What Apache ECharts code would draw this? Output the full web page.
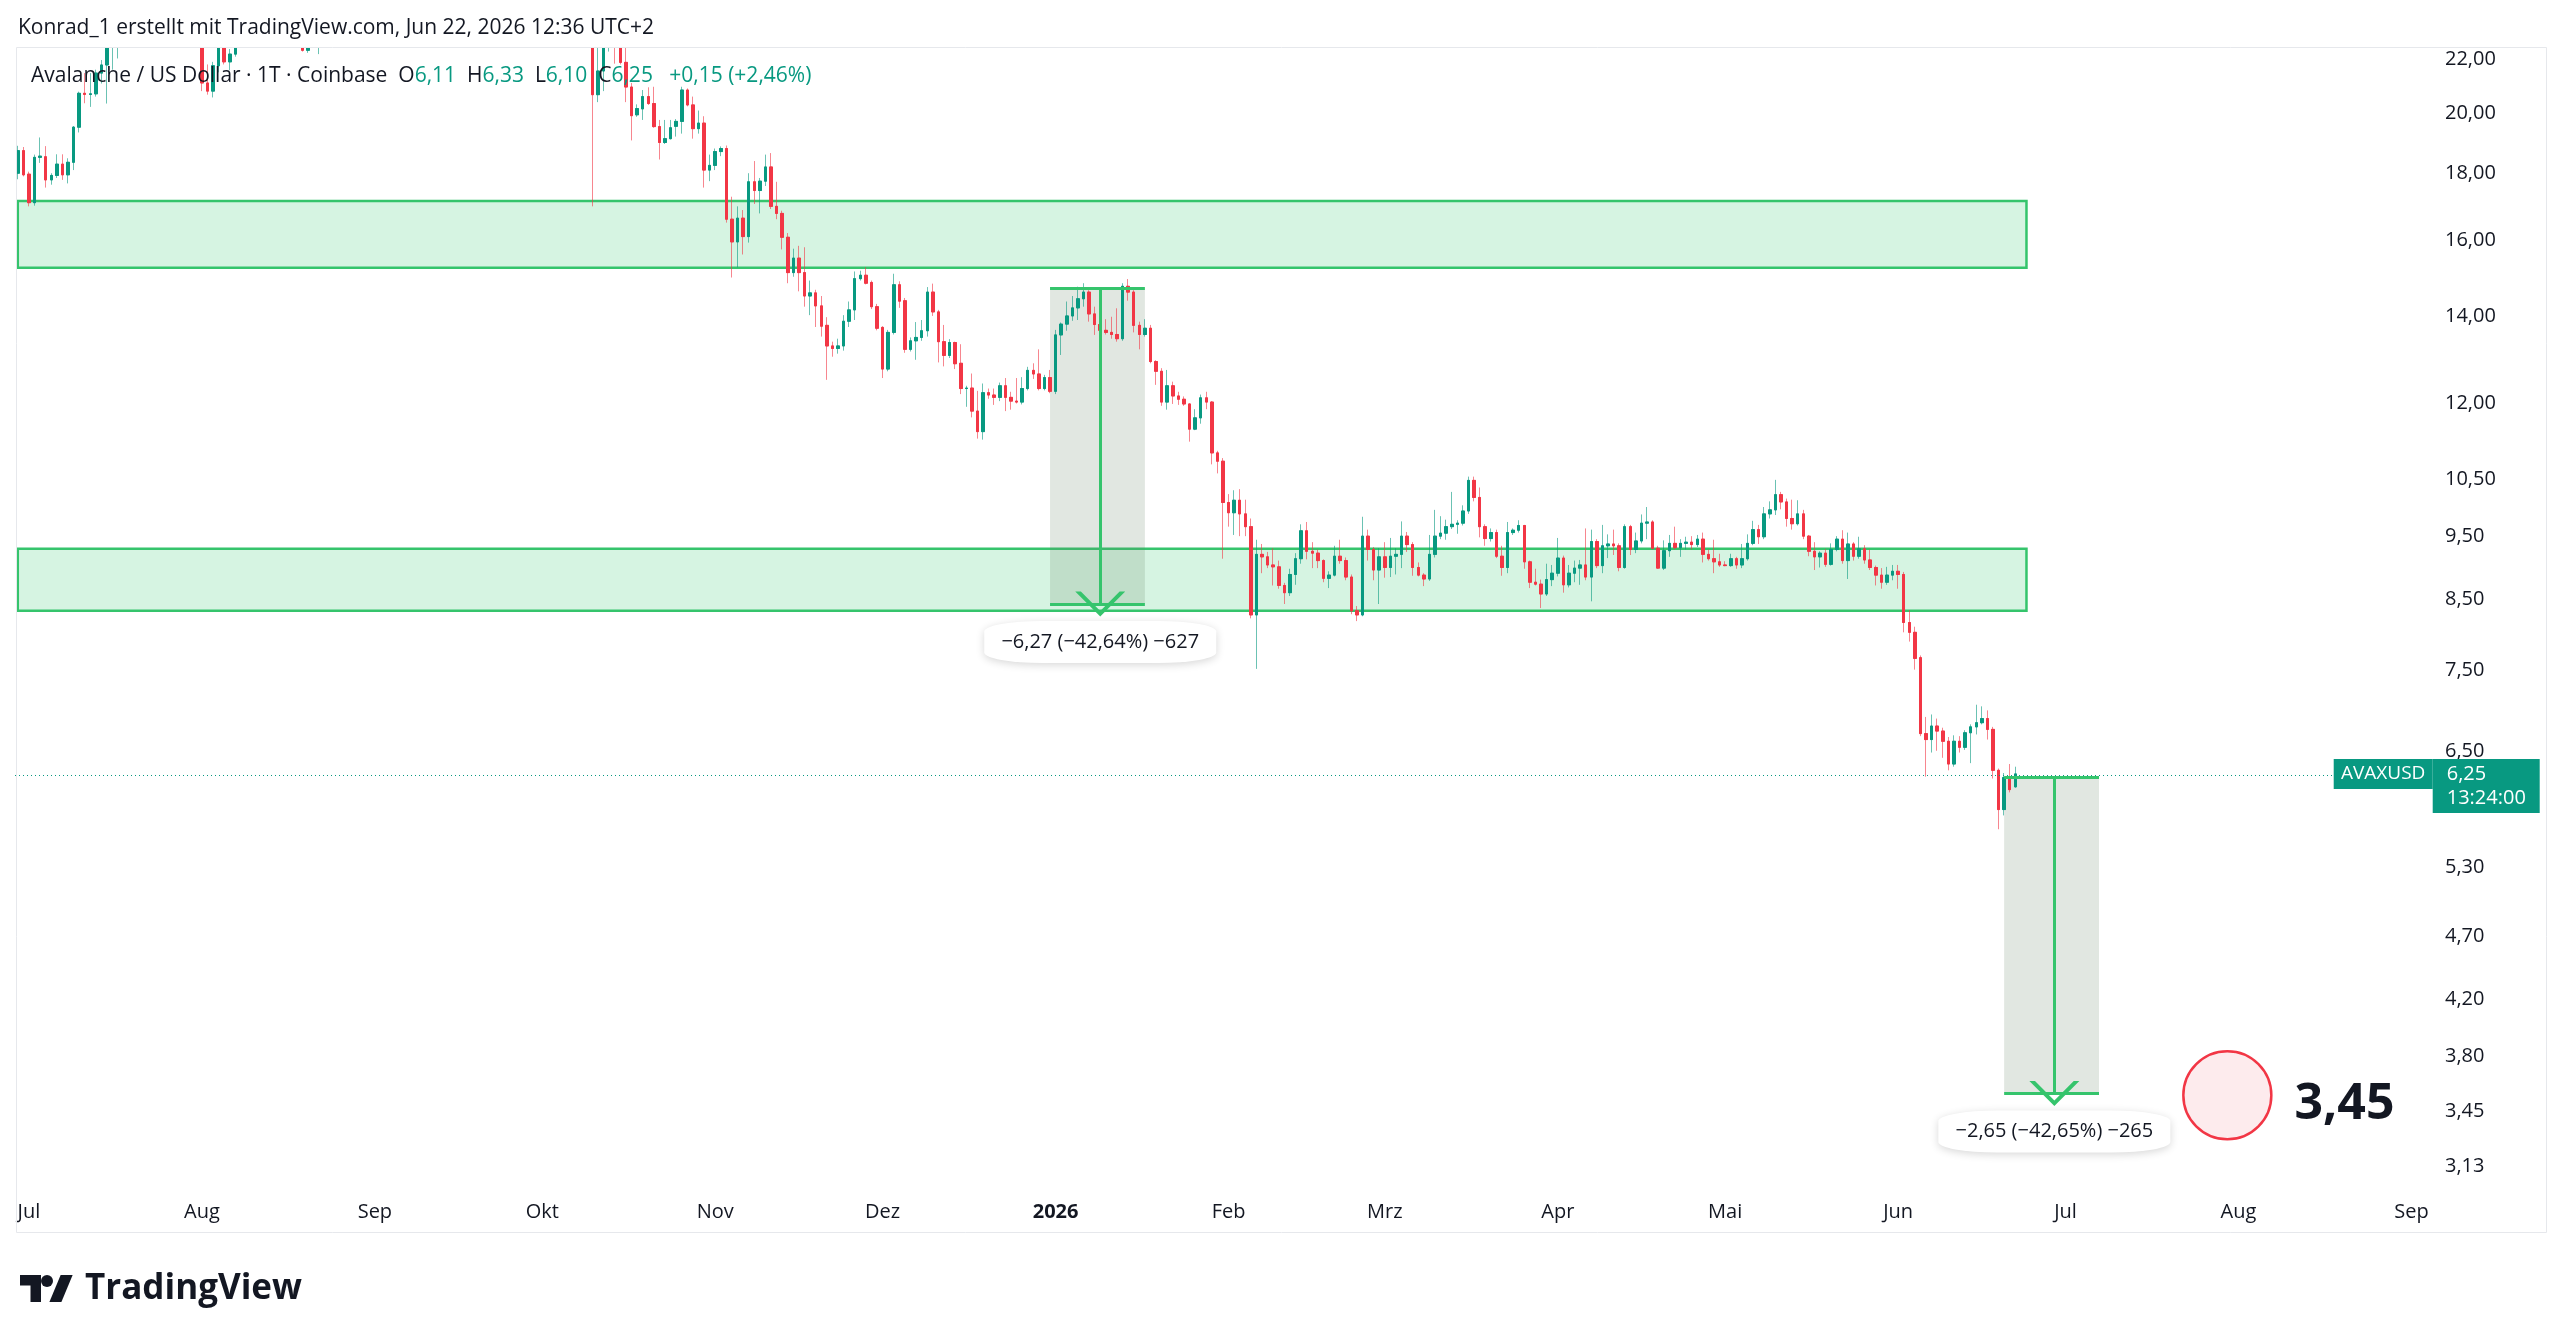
<!DOCTYPE html>
<html>
<head>
<meta charset="utf-8">
<script src="https://cdn.jsdelivr.net/npm/echarts@6/dist/echarts.min.js"></script>
<style>
  html, body { margin: 0; padding: 0; background: #fff; }
  #chart { width: 2560px; height: 1340px; }
</style>
</head>
<body>
<div id="chart"></div>
<script>
// daily AVAXUSD candles, [open, close, low, high]
const jun25 = [
  [18.00, 18.73, 17.81, 18.89], [18.73, 17.95, 17.90, 18.85]
];
const jul25 = [
  [17.97, 17.09, 16.98, 18.05], [17.09, 18.51, 17.00, 18.60], [18.51, 18.55, 18.33, 19.17], [18.53, 17.79, 17.55, 18.88],
  [17.79, 17.93, 17.64, 18.00], [17.93, 18.29, 17.85, 18.61], [18.29, 17.95, 17.79, 18.61], [17.95, 18.35, 17.68, 18.48],
  [18.35, 19.52, 18.10, 19.56], [19.52, 20.72, 19.34, 20.78], [20.72, 20.68, 20.36, 21.47], [20.68, 20.70, 20.23, 21.47],
  [20.70, 21.47, 20.60, 21.60], [21.47, 21.78, 21.08, 21.97], [21.78, 22.80, 20.35, 23.20], [22.80, 23.50, 21.60, 23.90],
  [23.50, 24.10, 22.03, 24.50], [24.10, 24.70, 23.60, 25.30], [24.70, 24.90, 24.20, 25.40], [24.90, 25.90, 24.60, 26.30],
  [25.90, 26.00, 25.10, 26.80], [26.00, 26.20, 25.30, 26.90], [26.20, 24.60, 24.10, 26.50], [24.60, 24.80, 23.80, 25.30],
  [24.80, 24.60, 23.60, 25.00], [24.60, 25.00, 24.30, 25.30], [25.00, 25.80, 24.80, 26.10], [25.80, 24.50, 24.30, 26.40],
  [24.50, 24.30, 23.70, 25.10], [24.30, 23.80, 23.10, 24.60], [23.80, 22.90, 22.60, 24.00]
];
const aug25 = [
  [22.90, 21.10, 20.80, 23.00], [21.10, 20.80, 20.67, 21.80], [20.80, 21.75, 20.57, 21.90], [21.75, 22.80, 21.50, 23.10],
  [22.80, 21.90, 21.80, 23.00], [21.90, 22.20, 21.58, 22.40], [22.20, 22.90, 22.10, 23.20], [22.90, 23.50, 22.70, 23.80],
  [23.50, 23.80, 23.20, 24.20], [23.80, 24.00, 23.40, 24.60], [24.00, 23.60, 23.10, 24.90], [23.60, 24.80, 23.30, 25.00],
  [24.80, 25.70, 24.50, 26.20], [25.70, 24.30, 23.80, 26.00], [24.30, 23.80, 23.30, 24.70], [23.80, 23.90, 23.50, 24.20],
  [23.90, 24.10, 23.60, 24.60], [24.10, 23.60, 22.90, 24.30], [23.60, 22.35, 22.30, 23.80], [22.35, 22.60, 22.25, 23.40],
  [22.60, 23.30, 22.50, 23.70], [23.30, 25.50, 22.20, 25.80], [25.50, 25.00, 24.60, 25.90], [25.00, 24.40, 24.00, 25.40],
  [24.40, 23.30, 23.00, 24.70], [23.30, 24.00, 23.00, 24.20], [24.00, 24.00, 23.50, 24.50], [24.00, 24.30, 23.70, 24.80],
  [24.30, 23.20, 22.90, 24.40], [23.20, 23.60, 23.00, 23.80], [23.60, 23.50, 23.10, 24.00]
];
const sep25 = [
  [23.50, 23.20, 22.80, 23.70], [23.20, 24.20, 23.00, 24.40], [24.20, 24.90, 24.00, 25.10], [24.90, 24.60, 24.20, 25.20],
  [24.60, 24.90, 24.40, 25.50], [24.90, 24.80, 24.50, 25.10], [24.80, 25.10, 24.60, 25.40], [25.10, 25.40, 24.90, 25.80],
  [25.40, 25.80, 25.00, 26.20], [25.80, 26.80, 25.50, 27.10], [26.80, 28.20, 26.50, 28.60], [28.20, 29.10, 27.90, 29.60],
  [29.10, 29.80, 28.80, 30.30], [29.80, 29.50, 29.00, 30.10], [29.50, 30.00, 28.90, 30.60], [30.00, 30.30, 29.50, 30.80],
  [30.30, 31.50, 29.90, 32.00], [31.50, 33.50, 31.20, 34.00], [33.50, 33.80, 32.80, 34.50], [33.80, 34.20, 33.30, 35.00],
  [34.20, 33.00, 32.60, 34.60], [33.00, 31.00, 30.50, 33.30], [31.00, 32.00, 30.60, 32.60], [32.00, 31.00, 30.50, 32.40],
  [31.00, 28.50, 28.00, 31.30], [28.50, 29.50, 28.20, 29.90], [29.50, 29.30, 28.90, 29.80], [29.30, 30.00, 29.00, 30.30],
  [30.00, 30.00, 29.40, 30.50], [30.00, 29.00, 28.70, 30.40]
];
const oct25 = [
  [29.00, 30.20, 28.80, 30.60], [30.20, 31.00, 30.00, 31.50], [31.00, 31.00, 30.40, 31.80], [31.00, 30.00, 29.60, 31.20],
  [30.00, 30.50, 29.70, 31.00], [30.50, 31.00, 30.20, 31.60], [31.00, 29.00, 28.70, 31.40], [29.00, 29.30, 28.40, 29.80],
  [29.30, 28.00, 27.40, 29.50], [28.00, 20.67, 16.98, 28.60], [20.67, 21.55, 20.40, 22.90], [21.55, 22.90, 20.80, 23.40],
  [22.90, 23.50, 22.30, 24.20], [23.50, 22.70, 21.83, 24.00], [22.70, 21.88, 21.80, 23.10], [21.88, 20.95, 20.40, 22.60],
  [20.95, 19.92, 19.07, 21.10], [19.95, 20.17, 19.88, 20.32], [20.16, 20.60, 19.77, 20.84], [20.60, 20.35, 20.30, 20.94],
  [20.35, 19.54, 19.50, 20.96], [19.54, 19.00, 18.44, 19.77], [19.00, 19.13, 18.95, 19.77], [19.13, 19.50, 19.10, 19.77],
  [19.55, 19.72, 19.20, 19.80], [19.72, 20.84, 19.30, 20.96], [20.84, 20.30, 20.25, 20.90], [20.30, 19.47, 19.13, 20.60],
  [19.47, 19.66, 19.30, 20.10], [19.66, 18.10, 17.55, 19.90], [18.10, 18.25, 17.75, 18.60]
];
const nov25 = [
  [18.25, 18.70, 18.10, 18.80], [18.70, 18.80, 18.55, 18.87], [18.80, 16.60, 16.50, 18.90], [16.60, 15.95, 14.98, 17.27],
  [15.95, 16.63, 15.25, 16.98], [16.63, 16.10, 15.60, 16.87], [16.10, 17.73, 15.93, 18.00], [17.73, 17.46, 17.05, 18.39],
  [17.46, 17.75, 16.77, 17.85], [17.75, 18.20, 17.60, 18.60], [18.20, 16.98, 16.90, 18.65], [16.98, 16.77, 16.60, 17.73],
  [16.77, 16.08, 15.74, 16.85], [16.08, 15.11, 14.83, 16.20], [15.11, 15.50, 15.00, 15.76], [15.50, 15.11, 14.62, 15.84],
  [15.11, 14.50, 14.23, 15.80], [14.50, 14.58, 14.02, 14.90], [14.58, 14.25, 13.73, 14.66], [14.25, 13.75, 13.50, 14.50],
  [13.77, 13.28, 12.51, 13.97], [13.28, 13.22, 13.03, 13.38], [13.22, 13.28, 13.10, 13.45], [13.28, 13.87, 13.17, 14.02],
  [13.87, 14.15, 13.73, 14.36], [14.15, 14.95, 13.90, 15.14], [14.95, 15.04, 14.90, 15.16], [15.04, 14.83, 14.80, 15.25],
  [14.85, 14.23, 14.17, 14.90], [14.23, 13.70, 13.65, 14.30]
];
const dec25 = [
  [13.72, 12.75, 12.55, 13.75], [12.75, 13.60, 12.70, 13.66], [13.60, 14.79, 13.55, 15.08], [14.79, 14.37, 14.20, 14.88],
  [14.38, 13.20, 13.12, 14.45], [13.20, 13.40, 13.15, 13.48], [13.40, 13.48, 12.96, 13.85], [13.48, 13.64, 13.40, 13.90],
  [13.64, 14.60, 13.50, 14.73], [14.60, 14.10, 14.00, 14.82], [14.10, 13.38, 12.90, 14.15], [13.38, 13.06, 12.81, 13.78],
  [13.06, 13.36, 13.00, 13.44], [13.36, 12.87, 12.75, 13.38], [12.88, 12.32, 12.20, 13.32], [12.32, 12.33, 11.93, 12.38],
  [12.33, 11.84, 11.71, 12.65], [11.84, 11.42, 11.28, 12.27], [11.42, 12.23, 11.26, 12.43], [12.23, 12.18, 12.10, 12.32],
  [12.18, 12.13, 11.97, 12.32], [12.13, 12.38, 12.05, 12.45], [12.38, 12.13, 11.84, 12.55], [12.13, 12.05, 11.87, 12.25],
  [12.05, 12.03, 12.00, 12.55], [12.03, 12.32, 11.98, 12.57], [12.32, 12.72, 12.28, 12.80], [12.72, 12.64, 12.53, 12.88],
  [12.64, 12.32, 12.28, 13.20], [12.32, 12.56, 12.28, 12.62], [12.56, 12.26, 12.22, 12.73]
];
const jan26 = [
  [12.26, 13.54, 12.20, 13.66], [13.54, 13.80, 13.07, 13.84], [13.80, 14.00, 13.64, 14.36], [14.00, 14.20, 13.88, 14.50],
  [14.20, 14.43, 13.90, 14.74], [14.43, 14.60, 14.23, 14.83], [14.60, 14.05, 13.86, 14.65], [14.05, 13.79, 13.54, 14.23],
  [13.79, 13.65, 13.57, 14.19], [13.65, 13.60, 13.55, 13.92], [13.60, 13.55, 13.45, 13.98], [13.55, 13.45, 13.38, 14.19],
  [13.45, 14.75, 13.40, 14.83], [14.75, 14.60, 14.38, 14.94], [14.60, 13.77, 13.60, 14.65], [13.77, 13.55, 13.20, 13.86],
  [13.55, 13.70, 13.50, 13.92], [13.70, 12.92, 12.88, 13.78], [12.92, 12.70, 12.40, 12.95], [12.70, 12.03, 11.95, 12.77],
  [12.03, 12.38, 11.87, 12.73], [12.38, 12.16, 11.99, 12.47], [12.16, 12.09, 11.97, 12.25], [12.09, 11.99, 11.95, 12.15],
  [11.99, 11.47, 11.22, 12.00], [11.47, 11.70, 11.45, 11.88], [11.70, 12.12, 11.58, 12.19], [12.12, 12.03, 11.88, 12.25],
  [12.03, 11.00, 10.78, 12.05], [11.00, 10.84, 10.61, 11.04], [10.84, 10.08, 9.13, 10.90]
];
const feb26 = [
  [10.08, 9.90, 9.66, 10.23], [9.90, 10.12, 9.52, 10.30], [10.12, 9.88, 9.50, 10.32], [9.88, 9.66, 9.50, 10.13],
  [9.66, 8.27, 8.22, 9.80], [8.27, 9.20, 7.52, 9.44], [9.20, 9.16, 8.90, 9.37], [9.16, 9.03, 8.98, 9.24],
  [9.03, 9.00, 8.71, 9.30], [9.00, 8.71, 8.66, 9.10], [8.71, 8.60, 8.43, 8.75], [8.60, 8.88, 8.55, 8.97],
  [8.88, 9.13, 8.72, 9.22], [9.13, 9.59, 9.05, 9.70], [9.59, 9.25, 9.12, 9.74], [9.25, 9.22, 8.98, 9.40],
  [9.22, 9.10, 8.98, 9.28], [9.10, 8.82, 8.76, 9.12], [8.82, 8.87, 8.67, 8.93], [8.87, 9.17, 8.85, 9.34],
  [9.17, 9.10, 9.05, 9.44], [9.10, 8.84, 8.79, 9.15], [8.84, 8.33, 8.28, 8.88], [8.33, 8.27, 8.18, 8.40],
  [8.27, 9.50, 8.25, 9.83], [9.50, 9.28, 9.10, 9.61], [9.28, 8.95, 8.79, 9.32], [8.95, 9.16, 8.43, 9.30]
];
const mar26 = [
  [9.16, 8.99, 8.83, 9.40], [8.99, 9.17, 8.84, 9.47], [9.17, 9.20, 8.88, 9.30], [9.20, 9.50, 8.98, 9.75],
  [9.50, 9.36, 9.24, 9.57], [9.36, 8.99, 8.86, 9.40], [8.99, 8.87, 8.85, 9.07], [8.87, 8.81, 8.70, 8.90],
  [8.81, 9.20, 8.78, 9.52], [9.20, 9.50, 9.15, 9.95], [9.50, 9.55, 9.45, 9.84], [9.55, 9.66, 9.44, 9.78],
  [9.66, 9.70, 9.62, 10.27], [9.70, 9.72, 9.54, 9.77], [9.72, 9.93, 9.68, 10.03], [9.93, 10.48, 9.88, 10.55],
  [10.48, 10.17, 10.10, 10.55], [10.17, 9.66, 9.48, 10.35], [9.66, 9.46, 9.34, 9.70], [9.46, 9.56, 9.41, 9.63],
  [9.56, 9.17, 9.14, 9.61], [9.17, 8.99, 8.86, 9.34], [8.99, 9.56, 8.90, 9.74], [9.56, 9.60, 9.52, 9.63],
  [9.60, 9.68, 9.56, 9.77], [9.68, 9.08, 8.97, 9.69], [9.08, 8.76, 8.67, 9.10], [8.76, 8.73, 8.71, 8.97],
  [8.73, 8.58, 8.37, 8.80], [8.58, 8.80, 8.55, 9.05], [8.80, 8.90, 8.70, 9.03]
];
const apr26 = [
  [8.90, 9.14, 8.85, 9.47], [9.14, 8.72, 8.60, 9.18], [8.72, 8.90, 8.68, 9.03], [8.90, 8.98, 8.76, 9.10],
  [8.98, 9.03, 8.72, 9.11], [9.03, 8.84, 8.79, 9.63], [8.84, 9.41, 8.47, 9.61], [9.41, 9.02, 8.98, 9.45],
  [9.02, 9.34, 8.90, 9.69], [9.34, 9.37, 9.14, 9.53], [9.37, 9.34, 9.19, 9.61], [9.34, 8.99, 8.93, 9.38],
  [8.99, 9.66, 8.97, 9.70], [9.66, 9.28, 9.19, 9.69], [9.28, 9.42, 9.22, 9.56], [9.42, 9.72, 9.38, 9.87],
  [9.72, 9.74, 9.45, 10.00], [9.74, 9.30, 9.28, 9.77], [9.30, 8.98, 8.97, 9.34], [8.98, 9.26, 8.95, 9.43],
  [9.26, 9.38, 9.16, 9.52], [9.38, 9.31, 9.28, 9.66], [9.31, 9.38, 9.16, 9.45], [9.38, 9.40, 9.28, 9.49],
  [9.40, 9.36, 9.28, 9.50], [9.36, 9.45, 9.32, 9.52], [9.45, 9.20, 9.07, 9.56], [9.20, 9.13, 9.10, 9.28],
  [9.13, 9.08, 8.90, 9.44], [9.08, 9.03, 9.00, 9.21]
];
const may26 = [
  [9.03, 9.02, 9.01, 9.09], [9.02, 9.13, 9.00, 9.21], [9.13, 9.03, 8.97, 9.16], [9.03, 9.13, 8.98, 9.37],
  [9.13, 9.38, 9.10, 9.53], [9.38, 9.61, 9.35, 9.76], [9.61, 9.49, 9.37, 9.69], [9.49, 9.88, 9.45, 10.00],
  [9.88, 9.95, 9.80, 10.10], [9.95, 10.22, 9.86, 10.49], [10.22, 10.09, 9.96, 10.27], [10.09, 9.80, 9.66, 10.15],
  [9.80, 9.71, 9.61, 10.13], [9.71, 9.88, 9.68, 10.12], [9.88, 9.50, 9.45, 9.95], [9.50, 9.25, 9.17, 9.52],
  [9.25, 9.16, 8.95, 9.40], [9.16, 9.22, 8.99, 9.25], [9.22, 9.04, 9.00, 9.29], [9.04, 9.28, 9.02, 9.38],
  [9.28, 9.45, 9.25, 9.50], [9.45, 9.10, 9.05, 9.60], [9.10, 9.37, 8.81, 9.56], [9.37, 9.17, 9.10, 9.40],
  [9.17, 9.29, 9.13, 9.49], [9.29, 9.11, 9.05, 9.35], [9.11, 8.99, 8.95, 9.28], [8.99, 8.87, 8.71, 9.02],
  [8.87, 8.76, 8.66, 8.98], [8.76, 8.87, 8.72, 9.00], [8.87, 8.93, 8.79, 9.03]
];
const jun26 = [
  [8.93, 8.88, 8.66, 9.03], [8.88, 8.16, 8.02, 8.92], [8.16, 8.02, 7.89, 8.34], [8.02, 7.66, 7.51, 8.10],
  [7.67, 6.71, 6.68, 7.70], [6.71, 6.64, 6.22, 6.91], [6.64, 6.80, 6.49, 6.94], [6.80, 6.74, 6.51, 6.89],
  [6.74, 6.62, 6.43, 6.78], [6.62, 6.36, 6.29, 6.67], [6.36, 6.62, 6.33, 6.69], [6.62, 6.55, 6.49, 6.68],
  [6.55, 6.72, 6.52, 6.75], [6.72, 6.79, 6.37, 6.82], [6.79, 6.84, 6.70, 7.06], [6.84, 6.89, 6.82, 7.04],
  [6.89, 6.76, 6.64, 6.99], [6.76, 6.29, 6.20, 6.79], [6.29, 5.87, 5.67, 6.31], [5.87, 6.21, 5.81, 6.26],
  [6.21, 6.08, 6.05, 6.36], [6.11, 6.25, 6.10, 6.33]
];

const firstDay = '2025-06-29';
const dayCount = 433; // runs on into September 2026 (empty space on the right)
const monthNames = ['Jan', 'Feb', 'Mrz', 'Apr', 'Mai', 'Jun', 'Jul', 'Aug', 'Sep', 'Okt', 'Nov', 'Dez'];
const priceTicks = [22, 20, 18, 16, 14, 12, 10.5, 9.5, 8.5, 7.5, 6.5, 5.3, 4.7, 4.2, 3.8, 3.45, 3.13];
const priceMin = 3.004;
const priceMax = 22.48;

// drawings
const zones = [[15.24, 17.14], [8.33, 9.29]];
const zoneEnd = '2026-06-24';
const measures = [
  { from: '2025-12-31', to: '2026-01-17', mid: '2026-01-09', top: 14.70, bottom: 8.43, text: '\u22126,27 (\u221242,64%) \u2212627' },
  { from: '2026-06-20', to: '2026-07-07', mid: '2026-06-29', top: 6.21, bottom: 3.56, text: '\u22122,65 (\u221242,65%) \u2212265' }
];
const lastPrice = 6.25;
const countdown = '13:24:00';
const targetCircle = ['2026-07-30', 3.55];
const targetText = ['2026-08-20', 3.49, '3,45'];

const FONT = '"Open Sans", Roboto, sans-serif';
const INK = '#131722';
const UP = '#089981';
const DOWN = '#F23645';
const LINE_GREEN = '#35c46c';

const fmt = v => v.toFixed(2).replace('.', ',');

const days = [];
const t0 = Date.parse(firstDay + 'T00:00:00Z');
for (let i = 0; i < dayCount; i++) {
  days.push(new Date(t0 + i * 86400000).toISOString().slice(0, 10));
}
const lastDay = days[days.length - 1];

const candles = [].concat(jun25, jul25, aug25, sep25, oct25, nov25, dec25, jan26, feb26, mar26, apr26, may26, jun26);
const logCandles = candles.map(c => c.map(v => Math.log(v)));
const bodies = logCandles.map(([o, c]) => [o, c, Math.min(o, c), Math.max(o, c)]);

const L = Math.log;

const areaData = [];
zones.forEach(([lo, hi]) => {
  areaData.push([
    { coord: [firstDay, L(hi)], itemStyle: { color: 'rgba(52,199,108,0.2)', borderColor: LINE_GREEN, borderWidth: 2.5 } },
    { coord: [zoneEnd, L(lo)] }
  ]);
});
measures.forEach(m => {
  areaData.push([
    { coord: [m.from, L(m.top)], itemStyle: { color: 'rgba(105,135,105,0.2)', borderWidth: 0 } },
    { coord: [m.to, L(m.bottom)] }
  ]);
});

const chevron = 'path://M20,0 L40,20 L35.5,20 L20,4.5 L4.5,20 L0,20 Z';
const lineData = [
  {
    yAxis: L(lastPrice),
    lineStyle: { color: UP, width: 1, type: [1, 3] }
  }
];
measures.forEach(m => {
  lineData.push([{ coord: [m.from, L(m.top)] }, { coord: [m.to, L(m.top)] }]);
  lineData.push([{ coord: [m.from, L(m.bottom)] }, { coord: [m.to, L(m.bottom)] }]);
  lineData.push([{ coord: [m.mid, L(m.top)] }, { coord: [m.mid, L(m.bottom)], symbol: chevron, symbolSize: [50, 25] }]);
});

const pointData = [];
measures.forEach(m => {
  pointData.push({
    coord: [m.mid, L(m.bottom)],
    symbol: 'roundRect',
    symbolSize: [232, 42],
    symbolOffset: [0, 38],
    itemStyle: { color: '#ffffff', shadowBlur: 8, shadowColor: 'rgba(0,0,0,0.16)', shadowOffsetY: 2 },
    label: { show: true, formatter: m.text, color: INK, fontSize: 20, fontFamily: FONT }
  });
});
pointData.push({
  coord: [targetCircle[0], L(targetCircle[1])],
  symbol: 'circle',
  symbolSize: 88,
  itemStyle: { color: '#fdebed', borderColor: DOWN, borderWidth: 2.5 },
  label: { show: false }
});
pointData.push({
  coord: [targetText[0], L(targetText[1])],
  symbol: 'rect',
  symbolSize: 1,
  itemStyle: { color: 'rgba(0,0,0,0)' },
  label: { show: true, formatter: targetText[2], color: INK, fontSize: 50, fontWeight: 'bold', fontFamily: FONT }
});
pointData.push({
  coord: [lastDay, L(lastPrice)],
  symbol: 'rect',
  symbolSize: [99, 30],
  symbolOffset: [-45, 0],
  itemStyle: { color: UP },
  label: { show: true, formatter: 'AVAXUSD', color: '#fff', fontSize: 19, fontFamily: FONT }
});
pointData.push({
  coord: [lastDay, L(lastPrice)],
  symbol: 'rect',
  symbolSize: [107, 54],
  symbolOffset: [58, 12],
  itemStyle: { color: UP },
  label: {
    show: true, position: 'insideLeft', distance: 14,
    formatter: fmt(lastPrice) + '\n' + countdown,
    color: '#fff', fontSize: 20, lineHeight: 24, fontFamily: FONT
  }
});

const chart = echarts.init(document.getElementById('chart'));
chart.setOption({
  animation: false,
  backgroundColor: '#ffffff',
  textStyle: { fontFamily: FONT },
  title: [
    {
      left: 18, top: 18, padding: 0, z: 60,
      text: 'Konrad_1 erstellt mit TradingView.com, Jun 22, 2026 12:36 UTC+2',
      textStyle: { fontSize: 21, fontWeight: 'normal', color: INK, fontFamily: FONT }
    },
    {
      left: 31, top: 66, padding: 0, z: 60,
      text: 'Avalanche / US Dollar \u00b7 1T \u00b7 Coinbase  O{g|6,11}  H{g|6,33}  L{g|6,10}  C{g|6,25}   {g|+0,15 (+2,46%)}',
      textStyle: {
        fontSize: 21, fontWeight: 'normal', color: INK, fontFamily: FONT,
        rich: { g: { color: UP, fontSize: 21, fontFamily: FONT } }
      }
    }
  ],
  grid: { left: 15, right: 129, top: 47, bottom: 150 },
  xAxis: {
    type: 'category',
    data: days,
    boundaryGap: true,
    axisLine: { show: false },
    axisTick: { show: false },
    splitLine: { show: false },
    axisLabel: {
      interval: (i, v) => v.slice(8) === '01',
      formatter: v => {
        const m = +v.slice(5, 7);
        return m === 1 ? '{b|' + v.slice(0, 4) + '}' : monthNames[m - 1];
      },
      color: INK, fontSize: 20, margin: 12, fontFamily: FONT,
      rich: { b: { fontWeight: 'bold', fontSize: 20, color: INK, fontFamily: FONT } }
    }
  },
  yAxis: {
    type: 'value',
    position: 'right',
    min: L(priceMin),
    max: L(priceMax),
    axisLine: { show: false },
    axisTick: { show: false },
    splitLine: { show: false },
    axisLabel: {
      customValues: priceTicks.map(L),
      formatter: v => fmt(Math.exp(v)),
      color: INK, fontSize: 20, margin: 14, fontFamily: FONT
    }
  },
  graphic: [
    {
      // candles above the top price are cut off at the pane border
      type: 'rect', silent: true, z: 50,
      shape: { x: 0, y: 0, width: 2560, height: 47 },
      style: { fill: '#ffffff' }
    },
    {
      type: 'rect', silent: true, z: 51,
      shape: { x: 16.5, y: 47.5, width: 2530, height: 1185 },
      style: { fill: 'none', stroke: '#e6e8ec', lineWidth: 1 }
    },
    {
      type: 'polygon', silent: true,
      shape: { points: [[41, 1302], [30.5, 1302], [30.5, 1285.5], [20, 1285.5], [20, 1275], [41, 1275]] },
      style: { fill: INK }
    },
    {
      type: 'circle', silent: true,
      shape: { cx: 47, cy: 1281, r: 6 },
      style: { fill: INK }
    },
    {
      type: 'polygon', silent: true,
      shape: { points: [[49.4, 1302], [60.65, 1275], [72.65, 1275], [61.4, 1302]] },
      style: { fill: INK }
    },
    {
      type: 'text', silent: true, x: 85, y: 1289,
      style: { text: 'TradingView', fontSize: 35, fontWeight: 'bold', fontFamily: FONT, fill: INK, verticalAlign: 'middle' }
    }
  ],
  series: [
    {
      name: 'wicks',
      type: 'candlestick',
      data: logCandles,
      barWidth: 3,
      clip: true,
      z: 2,
      silent: true,
      itemStyle: {
        color: 'rgba(8,153,129,0.55)', color0: 'rgba(242,54,69,0.55)',
        borderColor: 'rgba(8,153,129,0.6)', borderColor0: 'rgba(242,54,69,0.6)', borderWidth: 1
      },
      markArea: { silent: true, data: areaData }
    },
    {
      name: 'bodies',
      type: 'candlestick',
      data: bodies,
      barWidth: 3,
      clip: true,
      z: 3,
      silent: true,
      itemStyle: { color: UP, color0: DOWN, borderColor: UP, borderColor0: DOWN, borderWidth: 1 }
    },
    {
      name: 'drawings',
      type: 'line',
      data: [],
      clip: false,
      silent: true,
      z: 4,
      markLine: {
        silent: true,
        symbol: ['none', 'none'],
        symbolSize: [50, 25],
        label: { show: false },
        lineStyle: { color: LINE_GREEN, width: 3, type: 'solid' },
        data: lineData
      },
      markPoint: { silent: true, data: pointData }
    }
  ]
});
</script>
</body>
</html>
